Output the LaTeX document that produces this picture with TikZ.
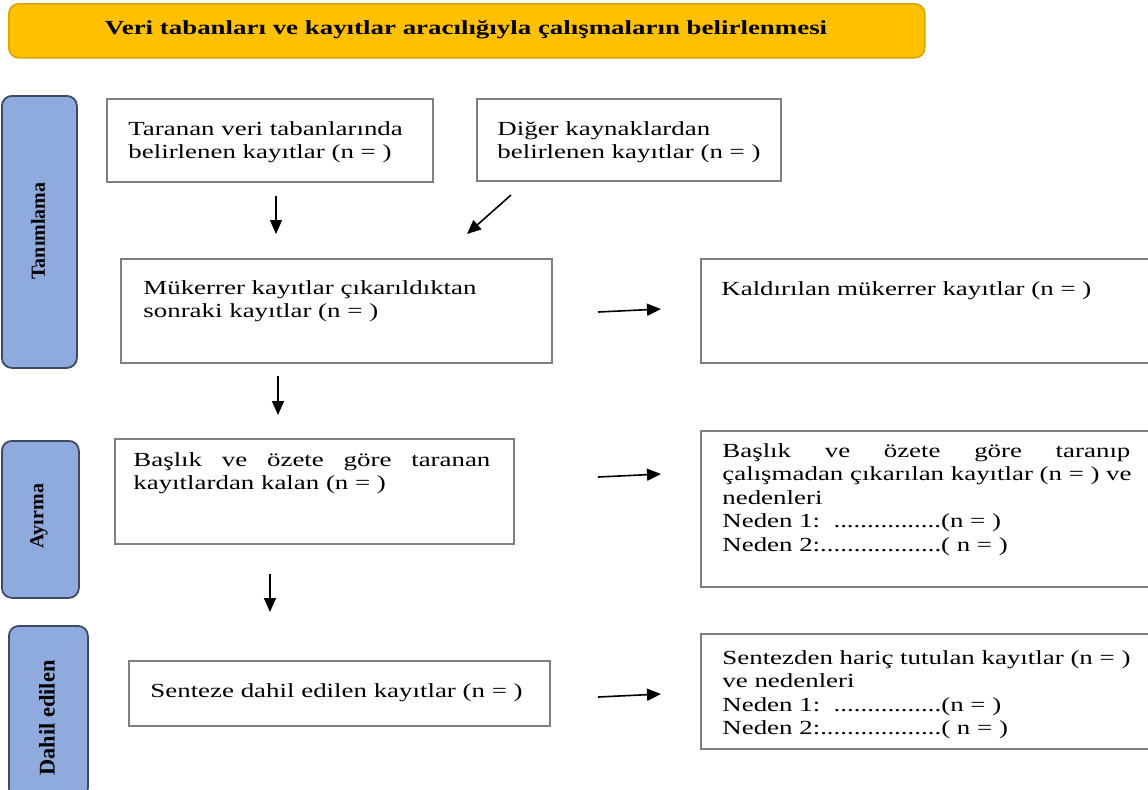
\documentclass[tikz,border=0pt]{standalone}
\usepackage{fontspec}
\setmainfont{Liberation Serif}[FakeStretch=1.345]
\newfontfamily\plainserif{Liberation Serif}
\usetikzlibrary{arrows.meta}
\definecolor{boxgray}{HTML}{808080}
\definecolor{gold}{HTML}{FFC000}
\definecolor{golddark}{HTML}{D9A300}
\definecolor{sideblue}{HTML}{8FAADC}
\definecolor{sideedge}{HTML}{3C4A66}
\tikzset{
  box/.style={draw=boxgray, line width=1pt, inner sep=0pt, anchor=north west},
  txt/.style={anchor=north west, inner sep=0pt, align=left, font=\fontsize{10}{11.75}\selectfont},
  side/.style={draw=sideedge, fill=sideblue, line width=0.9pt, rounded corners=5pt, inner sep=0pt, anchor=north west},
  sidetxt/.style={rotate=90, inner sep=0pt, font=\plainserif\bfseries\fontsize{10}{11}\selectfont},
  arr/.style={-{Triangle[length=7pt,width=6pt]}, line width=0.8pt}
}
\begin{document}
\begin{tikzpicture}[x=0.5pt,y=-0.5pt]
\useasboundingbox (0,0) rectangle (1148,789);
% banner
\node[draw=golddark, fill=gold, line width=0.8pt, rounded corners=5pt, anchor=north west,
      minimum width=458pt, minimum height=27pt, inner sep=0pt] (banner) at (8,3) {};
\node[font=\fontsize{10}{12}\selectfont\bfseries, inner sep=0pt] (bannertxt) at (466,30)
  {Veri tabanları ve kayıtlar aracılığıyla çalışmaların belirlenmesi};
% side labels
\node[side, minimum width=37.5pt, minimum height=136pt] (s1) at (1,95) {};
\node[sidetxt] (s1t) at (38,231) {Tanımlama};
\node[side, minimum width=38.5pt, minimum height=78.5pt] (s2) at (1,440) {};
\node[sidetxt] (s2t) at (39,516) {Ayırma};
\node[side, minimum width=39.5pt, minimum height=86pt] (s3) at (8,625) {};
\node[sidetxt, font=\plainserif\bfseries\fontsize{11.2}{13}\selectfont] (s3t) at (47,718) {Dahil edilen};
% boxes
\node[box, minimum width=163pt, minimum height=41.5pt] (b1) at (106,98) {};
\node[txt] (t1) at (128,121) {Taranan veri tabanlarında\\belirlenen kayıtlar (n = )};
\node[box, minimum width=152pt, minimum height=41pt] (b2) at (476,98) {};
\node[txt] (t2) at (497,121) {Diğer kaynaklardan\\belirlenen kayıtlar (n = )};
\node[box, minimum width=215.5pt, minimum height=52pt] (b3) at (120,258) {};
\node[txt] (t3) at (143,280) {Mükerrer kayıtlar çıkarıldıktan\\sonraki kayıtlar (n = )};
\node[box, minimum width=232pt, minimum height=52pt] (b4) at (700,258) {};
\node[txt] (t4) at (721,281) {Kaldırılan mükerrer kayıtlar (n = )};
\node[box, minimum width=199.5pt, minimum height=52.5pt] (b5) at (114,438) {};
\node[txt, text width=178.5pt] (t5) at (133,452)
  {Başlık\hfill ve\hfill özete\hfill göre\hfill taranan\\kayıtlardan kalan (n = )};
\node[box, minimum width=232pt, minimum height=78pt] (b6) at (700,430) {};
\node[txt, text width=204pt] (t6) at (722,443)
  {Başlık\hfill ve\hfill özete\hfill göre\hfill taranıp\\\makebox[204pt][l]{çalışmadan çıkarılan kayıtlar (n = ) ve}\\nedenleri\\Neden 1:\ \ ................(n = )\\Neden 2:..................( n = )};
\node[box, minimum width=210.5pt, minimum height=32.5pt] (b7) at (128,660) {};
\node[txt] (t7) at (150,683) {Senteze dahil edilen kayıtlar (n = )};
\node[box, minimum width=232pt, minimum height=57.5pt] (b8) at (700,633) {};
\node[txt] (t8) at (722,650)
  {Sentezden hariç tutulan kayıtlar (n = )\\ve nedenleri\\Neden 1:\ \ ................(n = )\\Neden 2:..................( n = )};
% arrows
\coordinate (a1s) at (276,196); \coordinate (a1e) at (276,234);
\coordinate (a2s) at (511,195); \coordinate (a2e) at (467,234);
\coordinate (a3s) at (598,312); \coordinate (a3e) at (661,309);
\coordinate (a4s) at (278,376); \coordinate (a4e) at (278,415);
\coordinate (a5s) at (598,477); \coordinate (a5e) at (661,474);
\coordinate (a6s) at (270,574); \coordinate (a6e) at (270,612);
\coordinate (a7s) at (598,697); \coordinate (a7e) at (661,694);
\draw[arr] (a1s) -- (a1e);
\draw[arr] (a2s) -- (a2e);
\draw[arr] (a3s) -- (a3e);
\draw[arr] (a4s) -- (a4e);
\draw[arr] (a5s) -- (a5e);
\draw[arr] (a6s) -- (a6e);
\draw[arr] (a7s) -- (a7e);
\end{tikzpicture}
\end{document}
